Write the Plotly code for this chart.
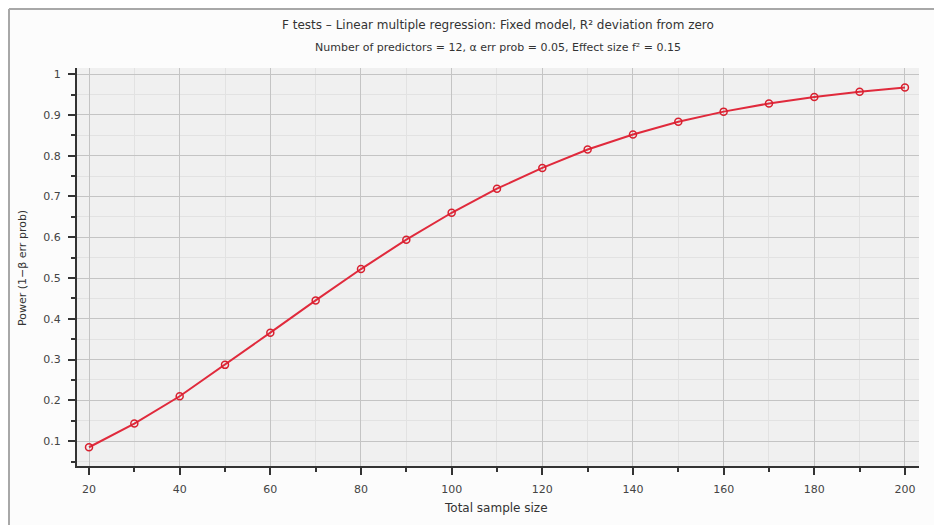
import plotly.graph_objects as go

sample_size = [20, 30, 40, 50, 60, 70, 80, 90, 100, 110, 120, 130, 140, 150, 160, 170, 180, 190, 200]
power = [0.085, 0.143, 0.210, 0.287, 0.366, 0.445, 0.522, 0.594, 0.660, 0.719, 0.770,
         0.815, 0.852, 0.883, 0.908, 0.928, 0.944, 0.957, 0.967]

x_ticks = [20, 40, 60, 80, 100, 120, 140, 160, 180, 200]
y_ticks = [0.1, 0.2, 0.3, 0.4, 0.5, 0.6, 0.7, 0.8, 0.9, 1]
y_labels = ["0.1", "0.2", "0.3", "0.4", "0.5", "0.6", "0.7", "0.8", "0.9", "1"]

title_main = "F tests – Linear multiple regression: Fixed model, R² deviation from zero"
title_sub = "Number of predictors = 12, α err prob = 0.05, Effect size f² = 0.15"
x_title = "Total sample size"
y_title = "Power (1−β err prob)"

# page body has an 8px default margin; work in page pixel coordinates
OFF = 8
W, H = 942 - OFF, 525 - OFF
PL, PR, PT, PB = 77, 919, 68, 466          # plot area in page px
L, R, T, B = PL - OFF, W - (PR - OFF), PT - OFF, H - (PB - OFF)
PW, PH = PR - PL, PB - PT

def px_x(px):
    return (px - PL) / PW

def px_y(py):
    return 1 - (py - PT) / PH

fig = go.Figure()
fig.add_trace(go.Scatter(
    x=sample_size, y=power, mode="lines+markers",
    line=dict(color="#e02a3c", width=2),
    marker=dict(symbol="circle-open", size=7, color="#d8202f", line=dict(width=1.5)),
    showlegend=False,
))

font_family = "DejaVu Sans, sans-serif"
fig.update_layout(
    width=W, height=H,
    margin=dict(l=L, r=R, t=T, b=B, autoexpand=False),
    paper_bgcolor="#fcfcfc",
    plot_bgcolor="#f0f0f0",
    font=dict(family=font_family, size=11, color="#444"),
    annotations=[
        dict(text=title_main, x=px_x(498), y=px_y(25), xref="paper", yref="paper",
             showarrow=False, font=dict(size=12, color="#333"), yanchor="middle"),
        dict(text=title_sub, x=px_x(498), y=px_y(47), xref="paper", yref="paper",
             showarrow=False, font=dict(size=11, color="#333"), yanchor="middle"),
        dict(text=x_title, x=px_x(496), y=px_y(508), xref="paper", yref="paper",
             showarrow=False, font=dict(size=12, color="#333"), yanchor="middle"),
        dict(text=y_title, x=px_x(22), y=px_y(268), xref="paper", yref="paper",
             showarrow=False, font=dict(size=11, color="#333"), textangle=-90,
             xanchor="center", yanchor="middle"),
    ],
    shapes=[
        dict(type="line", xref="paper", yref="paper", x0=px_x(9), x1=px_x(9),
             y0=px_y(9), y1=px_y(530), line=dict(color="#a8a8a8", width=2)),
        dict(type="line", xref="paper", yref="paper", x0=px_x(9), x1=px_x(945),
             y0=px_y(9), y1=px_y(9), line=dict(color="#a8a8a8", width=2)),
    ],
)

fig.update_xaxes(
    range=[17.35, 203.1], tickvals=x_ticks, ticks="outside", ticklen=7, tickwidth=1.5,
    tickcolor="#333", showline=True, linecolor="#333", linewidth=2,
    showgrid=True, gridcolor="#c4c4c4", gridwidth=1, zeroline=False,
    minor=dict(dtick=10, tick0=0, ticks="outside", ticklen=4, tickcolor="#333",
               showgrid=True, gridcolor="#e2e2e2"),
    automargin=False, ticklabelstandoff=5,
    tickfont=dict(size=11, color="#444"),
)
fig.update_yaxes(
    range=[0.039, 1.015], tickvals=y_ticks, ticktext=y_labels, ticks="outside", ticklen=7,
    tickwidth=1.5, tickcolor="#333", showline=True, linecolor="#333", linewidth=2,
    showgrid=True, gridcolor="#c4c4c4", gridwidth=1, zeroline=False,
    minor=dict(dtick=0.05, tick0=0, ticks="outside", ticklen=4, tickcolor="#333",
               showgrid=True, gridcolor="#e2e2e2"),
    automargin=False, ticklabelstandoff=5,
    tickfont=dict(size=11, color="#444"),
)

fig.write_html("out.html")
